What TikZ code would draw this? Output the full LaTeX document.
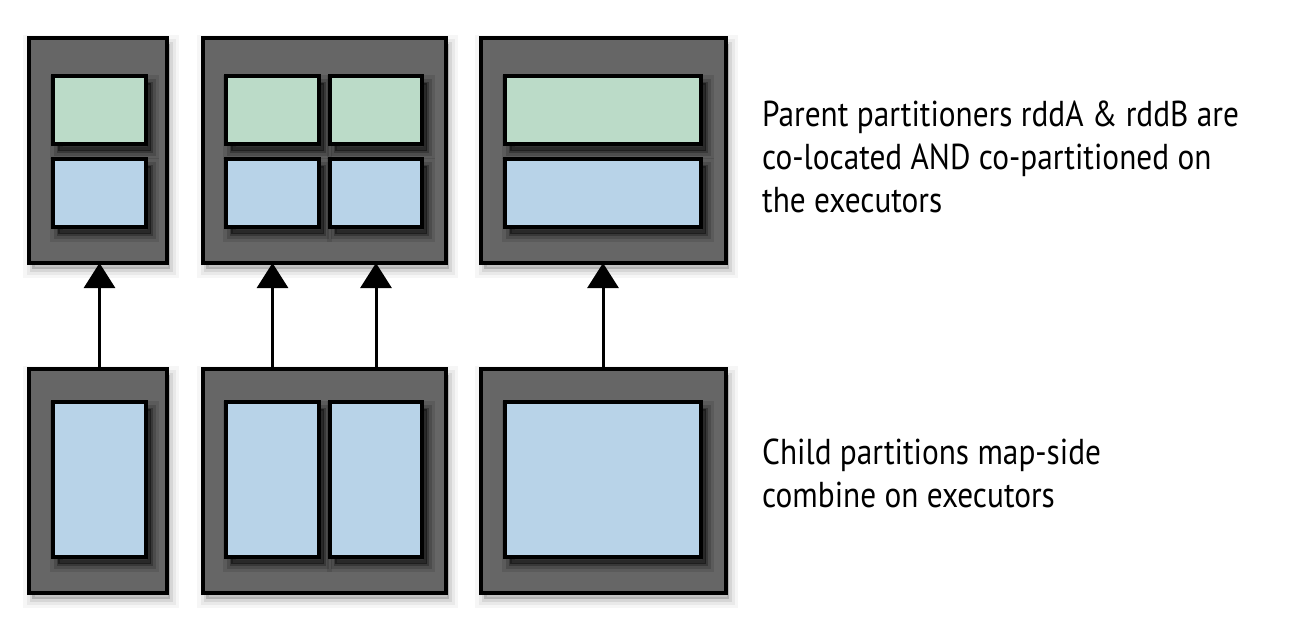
\documentclass[tikz,border=0pt]{standalone}
\usepackage{fontspec}
\setmainfont[FakeStretch=0.87]{PT Sans}
\usetikzlibrary{shadows,arrows.meta}
\definecolor{boxgray}{HTML}{666666}
\definecolor{pgreen}{HTML}{BBDBC8}
\definecolor{pblue}{HTML}{B8D3E8}
\tikzset{
  outershadow/.style={
    general shadow={shadow xshift=3pt, shadow yshift=-6pt, fill=black, draw=black, line width=18pt, opacity=0.035, rounded corners=8pt},
    general shadow={shadow xshift=3pt, shadow yshift=-6pt, fill=black, draw=black, line width=11pt, opacity=0.05, rounded corners=5pt},
    general shadow={shadow xshift=3pt, shadow yshift=-6pt, fill=black, draw=black, line width=5pt, opacity=0.08, rounded corners=2pt}},
  innershadow/.style={
    general shadow={shadow xshift=5pt, shadow yshift=-7pt, fill=black, draw=black, line width=16pt, opacity=0.1, rounded corners=8pt},
    general shadow={shadow xshift=5pt, shadow yshift=-7pt, fill=black, draw=black, line width=9pt, opacity=0.16, rounded corners=4pt},
    general shadow={shadow xshift=5pt, shadow yshift=-7pt, fill=black, draw=black, line width=3pt, opacity=0.25}},
  outerbox/.style={outershadow, draw=black, line width=4pt, fill=boxgray, inner sep=0pt, outer sep=0pt},
  innerbox/.style={innershadow, draw=black, line width=4pt, inner sep=0pt, outer sep=0pt},
  gbox/.style={innerbox, fill=pgreen},
  bbox/.style={innerbox, fill=pblue},
  uparrow/.style={line width=3pt, -{Triangle[length=25pt,width=31pt]}},
  label/.style={font=\fontsize{36}{43}\selectfont, align=left, anchor=west, inner sep=0pt}
}
\begin{document}
\begin{tikzpicture}[x=1pt,y=-1pt]
\useasboundingbox[fill=white] (0,0) rectangle (1292,630);
% top row outer boxes
\node[outerbox, minimum width=138pt, minimum height=225pt] (t1) at (98,150.5) {};
\node[outerbox, minimum width=243pt, minimum height=225pt] (t2) at (324.5,150.5) {};
\node[outerbox, minimum width=245pt, minimum height=225pt] (t3) at (603.5,150.5) {};
% top inner boxes
\node[gbox, minimum width=93pt, minimum height=68pt] (t1g) at (99.5,110) {};
\node[bbox, minimum width=93pt, minimum height=68pt] (t1b) at (99.5,193) {};
\node[gbox, minimum width=93pt, minimum height=68pt] (t2g1) at (272.5,110) {};
\node[bbox, minimum width=93pt, minimum height=68pt] (t2b1) at (272.5,193) {};
\node[gbox, minimum width=92pt, minimum height=68pt] (t2g2) at (376,110) {};
\node[bbox, minimum width=92pt, minimum height=68pt] (t2b2) at (376,193) {};
\node[gbox, minimum width=196pt, minimum height=68pt] (t3g) at (603,110) {};
\node[bbox, minimum width=196pt, minimum height=68pt] (t3b) at (603,193) {};
% bottom row outer boxes
\node[outerbox, minimum width=138pt, minimum height=224pt] (b1) at (98,481) {};
\node[outerbox, minimum width=243pt, minimum height=224pt] (b2) at (324.5,481) {};
\node[outerbox, minimum width=245pt, minimum height=224pt] (b3) at (603.5,481) {};
% bottom inner boxes
\node[bbox, minimum width=93pt, minimum height=155pt] (b1i) at (99.5,479.5) {};
\node[bbox, minimum width=93pt, minimum height=155pt] (b2i1) at (272.5,479.5) {};
\node[bbox, minimum width=92pt, minimum height=155pt] (b2i2) at (376,479.5) {};
\node[bbox, minimum width=196pt, minimum height=155pt] (b3i) at (603,479.5) {};
% arrows
\coordinate (a1s) at (b1i.center |- b1.north);
\coordinate (a1e) at (b1i.center |- t1.south);
\coordinate (a2s) at (b2i1.center |- b2.north);
\coordinate (a2e) at (b2i1.center |- t2.south);
\coordinate (a3s) at (b2i2.center |- b2.north);
\coordinate (a3e) at (b2i2.center |- t2.south);
\coordinate (a4s) at (b3i.center |- b3.north);
\coordinate (a4e) at (b3i.center |- t3.south);
\draw[uparrow] (a1s) -- (a1e);
\draw[uparrow] (a2s) -- (a2e);
\draw[uparrow] (a3s) -- (a3e);
\draw[uparrow] (a4s) -- (a4e);
% labels
\node[label] (ptext) at (762,157) {Parent partitioners rddA \& rddB are\\co-located AND co-partitioned on\\the executors};
\node[label] (ctext) at (762,473) {Child partitions map-side\\combine on executors};
\end{tikzpicture}
\end{document}
